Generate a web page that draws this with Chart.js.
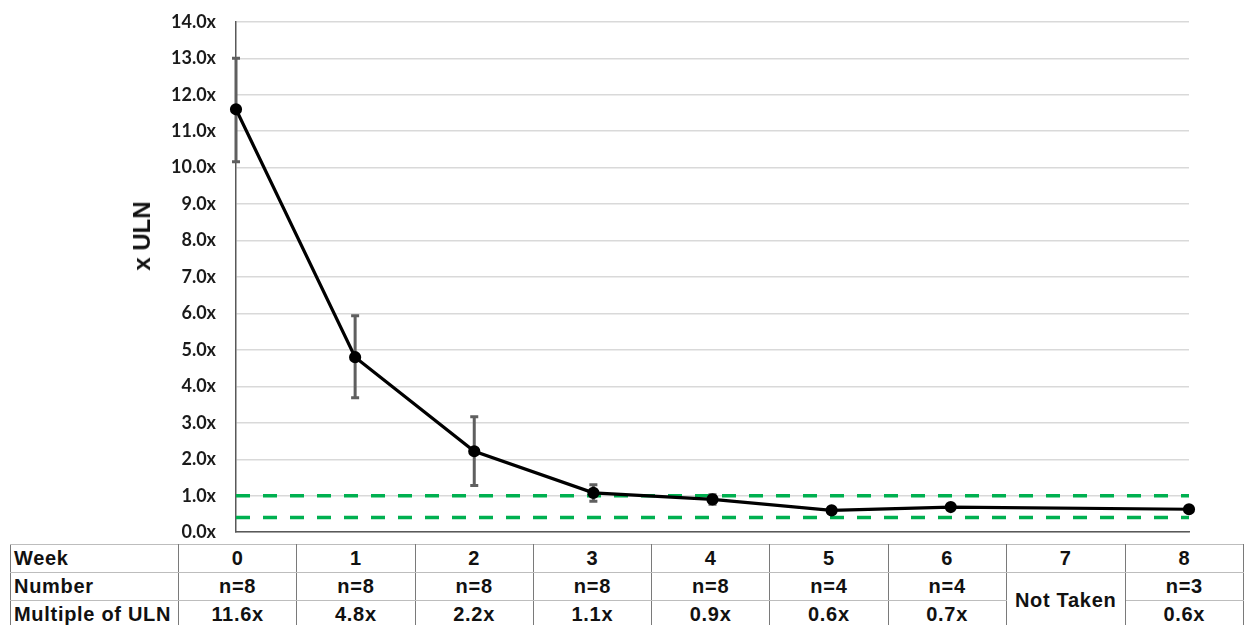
<!DOCTYPE html>
<html>
<head>
<meta charset="utf-8">
<script src="https://cdn.jsdelivr.net/npm/chart.js@4"></script>
<style>
  html, body { margin: 0; padding: 0; background: #fff; width: 1244px; height: 625px; overflow: hidden; position: relative; }
  #wrap { position: absolute; left: 0; top: 0; width: 1244px; height: 561px; }
  #ytitle { position: absolute; left: 142px; top: 236px; transform: translate(-50%, -50%) rotate(-90deg); font-family: "Liberation Sans", Arial, sans-serif; font-weight: bold; font-size: 24px; color: #111; white-space: nowrap; }
  table { position: absolute; left: 10px; top: 544px; border-collapse: collapse; font-family: "Liberation Sans", Arial, sans-serif; font-weight: bold; font-size: 20px; letter-spacing: 0.7px; color: #111; table-layout: fixed; background: #fff; }
  td { height: 27px; padding: 0; text-align: center; border-top: 1.5px solid #bdbdbd; border-bottom: 1.5px solid #bdbdbd; border-left: 1.5px solid #7a7a7a; border-right: 1.5px solid #7a7a7a; line-height: 27px; white-space: nowrap; overflow: hidden; }
  td.h { text-align: left; padding-left: 3px; }
</style>
</head>
<body>
<div id="wrap"><canvas id="c" width="1244" height="561"></canvas></div>
<div id="ytitle">x ULN</div>
<table id="t"></table>
<script>
const weeks = ['0', '1', '2', '3', '4', '5', '6', '7', '8'];
const meanULN = [11.6, 4.8, 2.22, 1.08, 0.9, 0.6, 0.69, null, 0.63];
const errUpper = [13.0, 5.94, 3.17, 1.30, 1.03, 0.63, 0.73, null, null];
const errLower = [10.16, 3.69, 1.28, 0.85, 0.77, 0.57, 0.65, null, null];
const refLines = [1.0, 0.4];
const numberRow = ['n=8', 'n=8', 'n=8', 'n=8', 'n=8', 'n=4', 'n=4', 'Not Taken', 'n=3'];
const multipleRow = ['11.6x', '4.8x', '2.2x', '1.1x', '0.9x', '0.6x', '0.7x', 'Not Taken', '0.6x'];
const rowHeaders = ['Week', 'Number', 'Multiple of ULN'];

// target plot-area box on the page
const PLOT_TOP = 22, PLOT_BOTTOM = 532;

const refLinePlugin = {
  id: 'refLines',
  beforeDatasetsDraw(chart) {
    const { ctx, chartArea, scales } = chart;
    ctx.save();
    ctx.strokeStyle = '#00b050';
    ctx.lineWidth = 3.5;
    ctx.setLineDash([14, 13]);
    refLines.forEach(v => {
      const y = scales.y.getPixelForValue(v);
      ctx.beginPath();
      ctx.moveTo(chartArea.left, y);
      ctx.lineTo(chartArea.right, y);
      ctx.stroke();
    });
    ctx.restore();
  }
};

const errorBarPlugin = {
  id: 'errorBars',
  beforeDatasetsDraw(chart) {
    const { ctx, scales } = chart;
    ctx.save();
    ctx.strokeStyle = '#5f5f5f';
    ctx.lineWidth = 3;
    ctx.setLineDash([]);
    weeks.forEach((w, i) => {
      if (errUpper[i] == null || errLower[i] == null) return;
      const x = scales.x.getPixelForValue(i);
      const y1 = scales.y.getPixelForValue(errUpper[i]);
      const y2 = scales.y.getPixelForValue(errLower[i]);
      ctx.beginPath();
      ctx.moveTo(x, y1); ctx.lineTo(x, y2);
      ctx.moveTo(x - 4, y1); ctx.lineTo(x + 4, y1);
      ctx.moveTo(x - 4, y2); ctx.lineTo(x + 4, y2);
      ctx.stroke();
    });
    ctx.restore();
  }
};

const chart = new Chart(document.getElementById('c'), {
  type: 'line',
  data: {
    labels: weeks,
    datasets: [{
      data: meanULN,
      borderColor: '#000',
      backgroundColor: '#000',
      borderWidth: 3.2,
      pointRadius: 4.5,
      pointBackgroundColor: '#000',
      pointBorderColor: '#000',
      tension: 0,
      spanGaps: true,
      clip: false
    }]
  },
  options: {
    responsive: false,
    maintainAspectRatio: false,
    animation: false,
    events: [],
    layout: { padding: { left: 128, right: 55, top: 8, bottom: 11 } },
    plugins: { legend: { display: false }, tooltip: { enabled: false } },
    scales: {
      x: {
        type: 'category',
        offset: false,
        grid: { display: false },
        ticks: { display: false },
        border: { display: true, color: '#595959', width: 1.5 },
        afterFit(s) { s.height = 0; }
      },
      y: {
        min: 0, max: 14,
        ticks: {
          stepSize: 1,
          padding: 20,
          color: '#1a1a1a',
          font: { family: 'Lato', weight: 'bold', size: 18 },
          callback: v => v.toFixed(1) + 'x'
        },
        grid: { color: '#d9d9d9', lineWidth: 1.5, drawTicks: false },
        border: { display: true, color: '#595959', width: 1.5 },
        title: { display: false },
        afterFit(s) { s.width = 108; }
      }
    }
  },
  plugins: [refLinePlugin, errorBarPlugin]
});

// fit the canvas so the plot area lands on the reference box
const wrap = document.getElementById('wrap');
for (let k = 0; k < 3; k++) {
  const ca = chart.chartArea;
  const off = PLOT_TOP - ca.top;
  const newH = Math.round(chart.height + (PLOT_BOTTOM - off - ca.bottom));
  wrap.style.top = off + 'px';
  wrap.style.height = newH + 'px';
  chart.resize(1244, newH);
}

// Table below the chart
const t = document.getElementById('t');
const colW = [168, 119, 119, 119, 119, 119, 119, 119, 119, 119];
const cg = document.createElement('colgroup');
colW.forEach(w => { const c = document.createElement('col'); c.style.width = w + 'px'; cg.appendChild(c); });
t.appendChild(cg);
function addRow(header, cells, skipRowspan) {
  const tr = document.createElement('tr');
  const th = document.createElement('td'); th.className = 'h'; th.textContent = header; tr.appendChild(th);
  cells.forEach((c) => {
    if (c === 'Not Taken') {
      if (skipRowspan) return;
      const td = document.createElement('td'); td.textContent = c; td.rowSpan = 2; tr.appendChild(td); return;
    }
    const td = document.createElement('td'); td.textContent = c; tr.appendChild(td);
  });
  t.appendChild(tr);
}
addRow(rowHeaders[0], weeks, false);
addRow(rowHeaders[1], numberRow, false);
addRow(rowHeaders[2], multipleRow, true);
</script>
</body>
</html>
